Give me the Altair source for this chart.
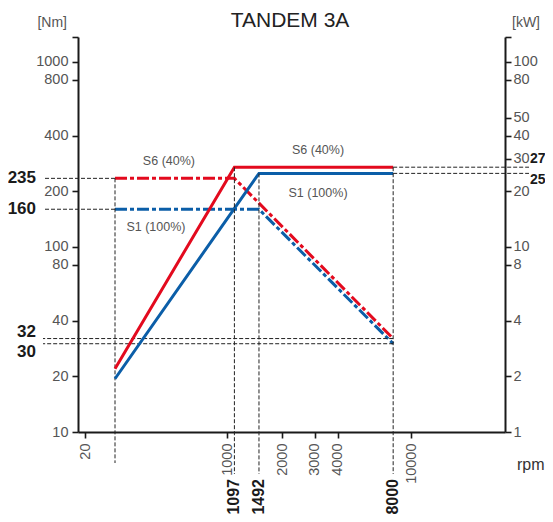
import altair as alt
import pandas as pd

# ---------------- data ----------------
s6_rpm = [100, 1097, 8000]
s6_torque = [235, 235, 32]
s6_power = [2.2, 27, 27]
s1_rpm = [100, 1492, 8000]
s1_torque = [160, 160, 30]
s1_power = [1.94, 25, 25]

x_tick_values = [20, 1000, 2000, 3000, 4000, 10000]
nm_tick_values = [10, 20, 40, 80, 100, 200, 400, 800, 1000, 1365]
kw_tick_values = [1, 2, 4, 8, 10, 20, 30, 40, 50, 80, 100, 136.5]

ref_torque_start = [235, 160]
ref_torque_end = [32, 30]
ref_power = [27, 25]
start_rpm = [100]
start_torque = [235]
corner_rpm = [1097, 1492, 8000]
corner_kw = [27, 25, 27]

curve_label_text = ["S6 (40%)", "S6 (40%)", "S1 (100%)", "S1 (100%)"]
curve_label_rpm = [303, 3124, 232, 3124]
curve_label_nm = [292, 334, 128, 196]

# ---------------- tables ----------------
s6_t = pd.DataFrame({"rpm": s6_rpm, "nm": s6_torque})
s1_t = pd.DataFrame({"rpm": s1_rpm, "nm": s1_torque})
s6_p = pd.DataFrame({"rpm": s6_rpm, "kw": s6_power})
s1_p = pd.DataFrame({"rpm": s1_rpm, "kw": s1_power})
ref_start_df = pd.DataFrame({"rpm": start_rpm * len(ref_torque_start), "nm": ref_torque_start})
ref_end_df = pd.DataFrame({"rpm": [s6_rpm[-1]] * len(ref_torque_end), "nm": ref_torque_end})
ref_pow_df = pd.DataFrame({"rpm": [s6_rpm[-1]] * len(ref_power), "kw": ref_power})
vstart_df = pd.DataFrame({"rpm": start_rpm, "nm": start_torque})
vcorner_df = pd.DataFrame({"rpm": corner_rpm, "kw": corner_kw})
curve_lab_df = pd.DataFrame({"t": curve_label_text, "rpm": curve_label_rpm, "nm": curve_label_nm})
one = pd.DataFrame({"a": [0]})

RED = "#e30a1e"
BLUE = "#0b5ea8"
DASH_C = "#222222"
FONT = "Liberation Sans"
LAB_C = "#555555"

X_SCALE = alt.Scale(type="log", domain=[13.7, 20, 100, 1000, 10000, 32400],
                    range=[0, 7, 37, 149, 333, 427], nice=False)
NM_SCALE = alt.Scale(type="log", domain=[10, 1365], nice=False)
KW_SCALE = alt.Scale(type="log", domain=[1, 136.5], nice=False)

ax_common = dict(title="", grid=False, domainColor="#1a1a1a", domainWidth=2,
                 tickColor="#1a1a1a", tickWidth=1.6, tickSize=6, labelFont=FONT,
                 labelFontSize=14.5, labelColor=LAB_C, labelOverlap=False,
                 labelFlush=False, format="d")

X_AXIS = alt.Axis(orient="bottom", values=x_tick_values, labelAngle=270, labelPadding=5, **ax_common)
NM_AXIS = alt.Axis(orient="left", values=nm_tick_values, labelPadding=4,
                   labelExpr="datum.value > 1200 ? '' : datum.label", **ax_common)
KW_AXIS = alt.Axis(orient="right", values=kw_tick_values, labelPadding=2,
                   labelExpr="datum.value > 120 ? '' : datum.label", **ax_common)

dash = dict(color=DASH_C, strokeWidth=1, strokeDash=[4, 2])
dd = [12, 3, 4, 3]
bold = dict(font=FONT, fontSize=17, fontWeight="bold", color="#1a1a1a")

# ---------- Nm group (x axis + left axis) ----------
base_nm = alt.Chart(s6_t).mark_line(color=RED, strokeWidth=3, strokeDash=dd).encode(
    x=alt.X("rpm:Q", scale=X_SCALE, axis=X_AXIS),
    y=alt.Y("nm:Q", scale=NM_SCALE, axis=NM_AXIS),
    order=alt.Order("rpm:Q"))
s1_line = alt.Chart(s1_t).mark_line(color=BLUE, strokeWidth=3, strokeDash=dd).encode(
    x=alt.X("rpm:Q", scale=X_SCALE), y=alt.Y("nm:Q", scale=NM_SCALE), order=alt.Order("rpm:Q"))

nm_ref1 = alt.Chart(ref_start_df).mark_rule(**dash).encode(
    x=alt.X("rpm:Q", scale=X_SCALE), x2=alt.value(-35), y=alt.Y("nm:Q", scale=NM_SCALE))
nm_ref2 = alt.Chart(ref_end_df).mark_rule(**dash).encode(
    x=alt.X("rpm:Q", scale=X_SCALE), x2=alt.value(-35), y=alt.Y("nm:Q", scale=NM_SCALE))
nm_vref = alt.Chart(vstart_df).mark_rule(**dash).encode(
    x=alt.X("rpm:Q", scale=X_SCALE), y=alt.Y("nm:Q", scale=NM_SCALE), y2=alt.value(426))

curve_labels = alt.Chart(curve_lab_df).mark_text(
    font=FONT, fontSize=12.5, color=LAB_C, align="center", baseline="middle").encode(
    x=alt.X("rpm:Q", scale=X_SCALE), y=alt.Y("nm:Q", scale=NM_SCALE), text="t:N")

lab_a = alt.Chart(pd.DataFrame({"nm": ref_torque_start})).mark_text(
    align="right", baseline="middle", **bold).encode(
    x=alt.value(-42), y=alt.Y("nm:Q", scale=NM_SCALE), text=alt.Text("nm:Q", format="d"))
lab_32 = alt.Chart(pd.DataFrame({"nm": ref_torque_end[:1]})).mark_text(
    align="right", baseline="middle", dy=-7, **bold).encode(
    x=alt.value(-42), y=alt.Y("nm:Q", scale=NM_SCALE), text=alt.Text("nm:Q", format="d"))
lab_30 = alt.Chart(pd.DataFrame({"nm": ref_torque_end[1:]})).mark_text(
    align="right", baseline="middle", dy=8, **bold).encode(
    x=alt.value(-42), y=alt.Y("nm:Q", scale=NM_SCALE), text=alt.Text("nm:Q", format="d"))

lab_rpm = alt.Chart(pd.DataFrame({"rpm": corner_rpm})).mark_text(
    align="right", baseline="middle", angle=270, font=FONT, fontSize=16,
    fontWeight="bold", color="#1a1a1a").encode(
    x=alt.X("rpm:Q", scale=X_SCALE), y=alt.value(442), text=alt.Text("rpm:Q", format="d"))

title = alt.Chart(one).mark_text(font=FONT, fontSize=21, color="#222222",
                                 align="center", baseline="alphabetic").encode(
    x=alt.value(212), y=alt.value(-10), text=alt.value("TANDEM 3A"))
unit_nm = alt.Chart(one).mark_text(font=FONT, fontSize=14, color=LAB_C,
                                   align="right", baseline="alphabetic").encode(
    x=alt.value(-11), y=alt.value(-10), text=alt.value("[Nm]"))
unit_kw = alt.Chart(one).mark_text(font=FONT, fontSize=14, color=LAB_C,
                                   align="left", baseline="alphabetic").encode(
    x=alt.value(434), y=alt.value(-10), text=alt.value("[kW]"))
unit_rpm = alt.Chart(one).mark_text(font=FONT, fontSize=16, color="#333333",
                                    align="left", baseline="alphabetic").encode(
    x=alt.value(439), y=alt.value(433), text=alt.value("rpm"))

nm_group = alt.layer(base_nm, s1_line, nm_ref1, nm_ref2, nm_vref, curve_labels,
                     lab_a, lab_32, lab_30, lab_rpm, title, unit_nm, unit_kw, unit_rpm)

# ---------- kW group (right axis) ----------
s6_pow = alt.Chart(s6_p).mark_line(color=RED, strokeWidth=3).encode(
    x=alt.X("rpm:Q", scale=X_SCALE),
    y=alt.Y("kw:Q", scale=KW_SCALE, axis=KW_AXIS), order=alt.Order("rpm:Q"))
s1_pow = alt.Chart(s1_p).mark_line(color=BLUE, strokeWidth=3).encode(
    x=alt.X("rpm:Q", scale=X_SCALE), y=alt.Y("kw:Q", scale=KW_SCALE), order=alt.Order("rpm:Q"))
kw_ref = alt.Chart(ref_pow_df).mark_rule(**dash).encode(
    x=alt.X("rpm:Q", scale=X_SCALE), x2=alt.value(451), y=alt.Y("kw:Q", scale=KW_SCALE))
kw_vref = alt.Chart(vcorner_df).mark_rule(**dash).encode(
    x=alt.X("rpm:Q", scale=X_SCALE), y=alt.Y("kw:Q", scale=KW_SCALE), y2=alt.value(437))
bold_r = dict(font=FONT, fontSize=14, fontWeight="bold", color="#1a1a1a")
lab_27 = alt.Chart(pd.DataFrame({"kw": ref_power[:1]})).mark_text(
    align="left", baseline="middle", dy=-8, **bold_r).encode(
    x=alt.value(452), y=alt.Y("kw:Q", scale=KW_SCALE), text=alt.Text("kw:Q", format="d"))
lab_25 = alt.Chart(pd.DataFrame({"kw": ref_power[1:]})).mark_text(
    align="left", baseline="middle", dy=7, **bold_r).encode(
    x=alt.value(452), y=alt.Y("kw:Q", scale=KW_SCALE), text=alt.Text("kw:Q", format="d"))

kw_group = alt.layer(s6_pow, s1_pow, kw_ref, kw_vref, lab_27, lab_25)

chart = alt.layer(nm_group, kw_group).resolve_scale(y="independent").properties(
    width=427, height=395,
    autosize=alt.AutoSizeParams(type="none"),
    padding={"left": 70, "top": 29, "right": 40, "bottom": 82},
).configure_view(stroke=None)

chart.save("out.html", embed_options={"renderer": "svg", "actions": False})
